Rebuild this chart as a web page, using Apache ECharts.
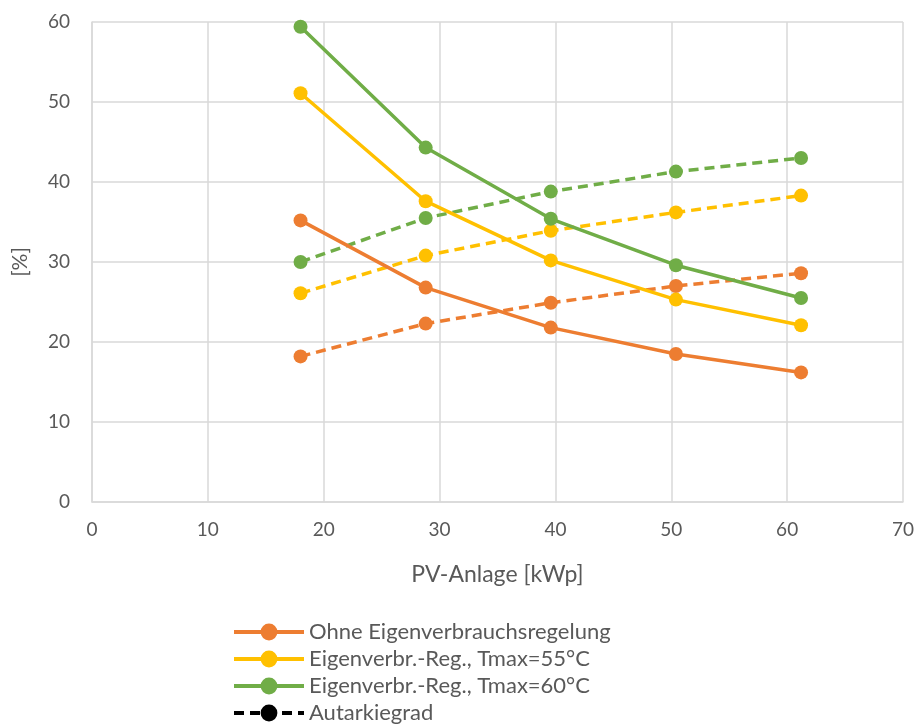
<!DOCTYPE html>
<html><head><meta charset="utf-8">
<script src="https://cdn.jsdelivr.net/npm/echarts@6/dist/echarts.min.js"></script>
<style>html,body{margin:0;padding:0;background:#fff}#c{width:918px;height:725px}</style>
</head><body><div id="c"></div>
<script>
const pvSizes = [18, 28.8, 39.6, 50.4, 61.2];
const ohneEV = [35.2, 26.8, 21.8, 18.5, 16.2];
const ev55 = [51.1, 37.6, 30.2, 25.3, 22.1];
const ev60 = [59.4, 44.3, 35.4, 29.6, 25.5];
const autOhne = [18.2, 22.3, 24.9, 27.0, 28.6];
const aut55 = [26.1, 30.8, 33.9, 36.2, 38.3];
const aut60 = [30.0, 35.5, 38.8, 41.3, 43.0];
const xTicks = [0, 70, 10];
const yTicks = [0, 60, 10];
const names = ['Ohne Eigenverbrauchsregelung', 'Eigenverbr.-Reg., Tmax=55°C', 'Eigenverbr.-Reg., Tmax=60°C', 'Autarkiegrad'];
const colors = ['#ED7D31', '#FFC000', '#70AD47', '#000000'];

const pts = arr => pvSizes.map((x, i) => [x, arr[i]]);
function mk(name, data, color, dashed) {
  return {
    name, type: 'line', data: data ? pts(data) : [],
    symbol: 'circle', symbolSize: 14, showSymbol: true,
    itemStyle: { color },
    lineStyle: { color, width: 3.5, type: dashed ? [10, 6] : 'solid' },
    z: dashed ? 2 : 3
  };
}
const font = 'Lato, "Open Sans", sans-serif';
const chart = echarts.init(document.getElementById('c'));
chart.setOption({
  animation: false,
  textStyle: { fontFamily: font },
  grid: { left: 92, right: 15, top: 22, bottom: 223 },
  xAxis: {
    type: 'value', min: xTicks[0], max: xTicks[1], interval: xTicks[2],
    name: 'PV-Anlage [kWp]', nameLocation: 'middle', nameGap: 61,
    nameTextStyle: { color: '#595959', fontSize: 23, fontFamily: font },
    axisLine: { show: true, lineStyle: { color: '#D9D9D9', width: 1.5 } },
    axisTick: { show: false },
    axisLabel: { color: '#595959', fontSize: 19, margin: 18, fontFamily: font },
    splitLine: { show: true, lineStyle: { color: '#D9D9D9', width: 1.5 } }
  },
  yAxis: {
    type: 'value', min: yTicks[0], max: yTicks[1], interval: yTicks[2],
    name: '[%]', nameLocation: 'middle', nameGap: 61, nameRotate: 90,
    nameTextStyle: { color: '#595959', fontSize: 21, fontFamily: font },
    axisLine: { show: true, lineStyle: { color: '#D9D9D9', width: 1.5 } },
    axisTick: { show: false },
    axisLabel: { color: '#595959', fontSize: 19, margin: 22, fontFamily: font },
    splitLine: { show: true, lineStyle: { color: '#D9D9D9', width: 1.5 } }
  },
  legend: {
    data: names, orient: 'vertical', left: 232, top: 621,
    padding: 0,
    itemWidth: 70, itemHeight: 21, itemGap: 5,
    lineStyle: { width: 4 },
    textStyle: { color: '#595959', fontSize: 22, lineHeight: 21, fontFamily: font }
  },
  series: [
    mk(names[0], ohneEV, colors[0], false),
    mk(names[1], ev55, colors[1], false),
    mk(names[2], ev60, colors[2], false),
    mk('Autarkie Ohne', autOhne, colors[0], true),
    mk('Autarkie 55', aut55, colors[1], true),
    mk('Autarkie 60', aut60, colors[2], true),
    mk(names[3], null, colors[3], true)
  ]
});
</script></body></html>
